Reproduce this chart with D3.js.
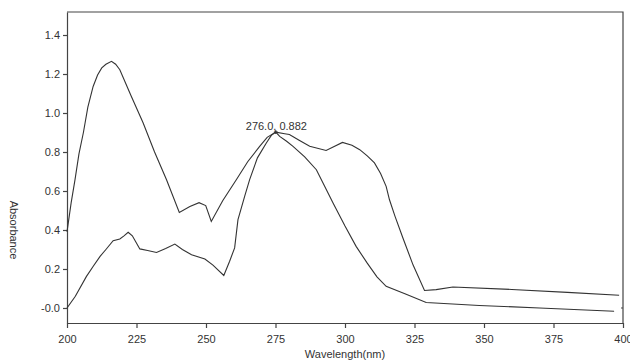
<!DOCTYPE html>
<html>
<head>
<meta charset="utf-8">
<script src="https://cdn.jsdelivr.net/npm/d3@7"></script>
<style>
  body { margin: 0; background: #fff; }
  text { font-family: "Liberation Sans", Arial, sans-serif; fill: #333; }
</style>
</head>
<body>
<div id="chart"></div>
<script>
// two absorbance spectra
var wlA = [200, 201.5, 202.9, 204.3, 205.9, 207.5, 209.4, 211, 212.5, 214, 216, 217.5, 219, 223, 227.4, 231.5, 235.8, 240.4,
  244.2, 247.5, 249.9, 251.9, 256, 260.9, 265, 269.3, 272, 275.1, 278.3, 280, 283.5, 287.3, 293.2, 299.1, 302.5, 305.3,
  308, 310.6, 312.8, 314.8, 316, 318, 320.8, 324.5, 328.6, 332.8, 338.8, 360, 380, 398.6];
var absA = [0.39, 0.54, 0.66, 0.79, 0.9, 1.03, 1.136, 1.195, 1.231, 1.25, 1.265, 1.25, 1.222, 1.09, 0.949, 0.8, 0.658, 0.49,
  0.52, 0.54, 0.525, 0.444, 0.55, 0.658, 0.75, 0.829, 0.875, 0.902, 0.894, 0.89, 0.86, 0.829, 0.808, 0.849, 0.835, 0.812,
  0.78, 0.744, 0.69, 0.624, 0.555, 0.47, 0.36, 0.22, 0.09, 0.094, 0.108, 0.095, 0.08, 0.065];

var wlB = [200, 203, 207, 209.5, 211.9, 214, 216.6, 219, 220.5, 222, 223.5, 226.2, 229, 232.2, 235.5, 238.8, 241.5, 244.8,
  249.6, 252.5, 256.4, 258.5, 260.3, 261.5, 263.9, 265.7, 268.5, 271.7, 273.5, 275.1, 276.5, 279, 281.3, 285.5, 289.7,
  292.5, 295.7, 300, 304, 308, 311.5, 314.8, 322, 329.2, 348.3, 370, 396.8];
var absB = [0.0, 0.06, 0.162, 0.215, 0.265, 0.3, 0.345, 0.354, 0.37, 0.388, 0.37, 0.303, 0.295, 0.285, 0.305, 0.328, 0.3, 0.273,
  0.251, 0.22, 0.167, 0.24, 0.308, 0.453, 0.572, 0.658, 0.77, 0.846, 0.885, 0.902, 0.88, 0.855, 0.829, 0.775, 0.709,
  0.63, 0.538, 0.42, 0.316, 0.23, 0.16, 0.111, 0.07, 0.028, 0.013, 0.0, -0.017];

var xTicks = [200, 225, 250, 275, 300, 325, 350, 375, 400];
var yTicks = [0, 0.2, 0.4, 0.6, 0.8, 1.0, 1.2, 1.4];

// peak marker
var peakWl = 275.1, peakAbs = 0.902;
var peakLabel = "276.0, 0.882";

var width = 630, height = 360;
var margin = {top: 12, right: 7, bottom: 37, left: 67};

var svg = d3.select("#chart").append("svg")
  .attr("width", width)
  .attr("height", height);

var x = d3.scaleLinear()
  .domain([200, 400])
  .range([margin.left, width - margin.right]);

var y = d3.scaleLinear()
  .domain([-0.077, 1.518])
  .range([height - margin.bottom, margin.top]);

// frame (top + right)
svg.append("path")
  .attr("d", "M" + x(200) + "," + y.range()[1] + "H" + x(400) + "V" + y.range()[0])
  .attr("fill", "none")
  .attr("stroke", "#444")
  .attr("stroke-width", 1.2);

var xAxis = svg.append("g")
  .attr("transform", "translate(0," + y.range()[0] + ")")
  .call(d3.axisBottom(x).tickValues(xTicks).tickSize(5).tickSizeOuter(0).tickPadding(7));

var yAxis = svg.append("g")
  .attr("transform", "translate(" + margin.left + ",0)")
  .call(d3.axisLeft(y).tickValues(yTicks).tickSize(4).tickSizeOuter(0).tickPadding(3)
    .tickFormat(d => d === 0 ? "-0.0" : d.toFixed(1)));

[xAxis, yAxis].forEach(g => {
  g.selectAll("path, line").attr("stroke", "#444").attr("stroke-width", 1.2);
  g.selectAll("text").attr("font-size", 11).attr("fill", "#333");
});

// little tick on the right edge at zero
svg.append("line")
  .attr("x1", x(400) - 2).attr("x2", x(400))
  .attr("y1", y(0)).attr("y2", y(0))
  .attr("stroke", "#444");

var line = d3.line()
  .x(d => x(d[0]))
  .y(d => y(d[1]));

[[wlA, absA], [wlB, absB]].forEach(s => {
  svg.append("path")
    .datum(d3.zip(s[0], s[1]))
    .attr("d", line)
    .attr("fill", "none")
    .attr("stroke", "#333")
    .attr("stroke-width", 1.1);
});

// peak mark + label
svg.append("path")
  .attr("d", d3.symbol(d3.symbolCross, 8)())
  .attr("transform", "translate(" + x(peakWl) + "," + y(peakAbs) + ")")
  .attr("fill", "#333");

svg.append("text")
  .attr("x", x(peakWl) - 30)
  .attr("y", y(peakAbs) - 2)
  .attr("font-size", 11)
  .text(peakLabel);

// axis titles
svg.append("text")
  .attr("x", (x(200) + x(400)) / 2)
  .attr("y", 358)
  .attr("text-anchor", "middle")
  .attr("font-size", 11)
  .text("Wavelength(nm)");

svg.append("text")
  .attr("transform", "translate(10,230) rotate(90)")
  .attr("text-anchor", "middle")
  .attr("font-size", 11)
  .text("Absorbance");
</script>
</body>
</html>
